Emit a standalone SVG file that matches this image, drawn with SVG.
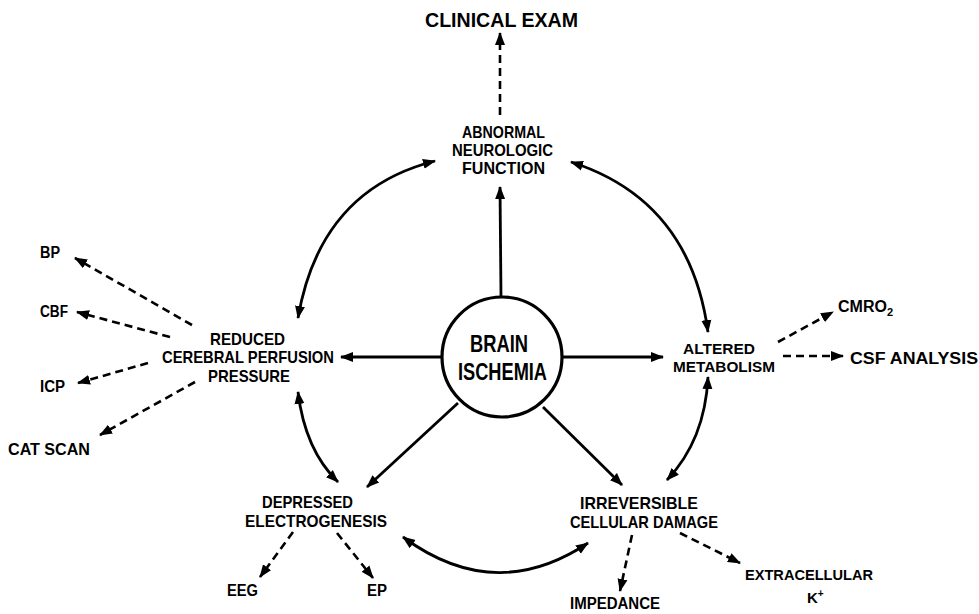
<svg xmlns="http://www.w3.org/2000/svg" width="979" height="614" viewBox="0 0 979 614">
<defs>
<style>
text{font-family:"Liberation Sans",Arial,sans-serif;font-weight:bold;font-size:17px;fill:#000}
.big{font-size:23px}
.title{font-size:20px}
.sm{font-size:16px}
.md{font-size:15px}
.solid{fill:none;stroke:#000;stroke-width:2.8}
.dash{fill:none;stroke:#000;stroke-width:2.6;stroke-dasharray:8 5}
</style>
<marker id="ah" markerUnits="userSpaceOnUse" markerWidth="14" markerHeight="12" refX="12" refY="5" orient="auto-start-reverse" viewBox="0 0 14 10">
<path d="M0,0 L13,5 L0,10 z" fill="#000"/>
</marker>
</defs>
<rect width="979" height="614" fill="#fff"/>
<g id="connectors">
<path class="dash" d="M500,115 L500,33" marker-end="url(#ah)"/>
<path class="solid" d="M501,297 L500,187" marker-end="url(#ah)"/>
<path class="solid" d="M442,357 L341,357" marker-end="url(#ah)"/>
<path class="solid" d="M562,357 L663,357" marker-end="url(#ah)"/>
<path class="solid" d="M458,403 L367,487" marker-end="url(#ah)"/>
<path class="solid" d="M543,407 L622,485" marker-end="url(#ah)"/>
<path class="solid" d="M435,161 Q320,190 298,318" marker-start="url(#ah)" marker-end="url(#ah)"/>
<path class="solid" d="M571,162 Q690,200 708,332" marker-start="url(#ah)" marker-end="url(#ah)"/>
<path class="solid" d="M298,392 Q305,450 338,482" marker-start="url(#ah)" marker-end="url(#ah)"/>
<path class="solid" d="M708,377 Q705,440 667,480" marker-start="url(#ah)" marker-end="url(#ah)"/>
<path class="solid" d="M403,537 Q495,605 588,543" marker-start="url(#ah)" marker-end="url(#ah)"/>
<path class="dash" d="M192,325 L75,258" marker-end="url(#ah)"/>
<path class="dash" d="M170,337 L77,312" marker-end="url(#ah)"/>
<path class="dash" d="M148,363 L78,383" marker-end="url(#ah)"/>
<path class="dash" d="M195,382 L100,435" marker-end="url(#ah)"/>
<path class="dash" d="M778,342 L833,312" marker-end="url(#ah)"/>
<path class="dash" d="M783,356 L843,356" marker-end="url(#ah)"/>
<path class="dash" d="M293,532 L260,577" marker-end="url(#ah)"/>
<path class="dash" d="M337,533 L373,578" marker-end="url(#ah)"/>
<path class="dash" d="M632,535 L620,591" marker-end="url(#ah)"/>
<path class="dash" d="M680,533 L740,563" marker-end="url(#ah)"/>
</g>
<g id="brain-ischemia">
<circle cx="502" cy="357" r="60" fill="none" stroke="#000" stroke-width="3.2"/>
<text class="big" x="470" y="352" textLength="58" lengthAdjust="spacingAndGlyphs">BRAIN</text>
<text class="big" x="458" y="380" textLength="89" lengthAdjust="spacingAndGlyphs">ISCHEMIA</text>
</g>
<g id="clinical-exam">
<text class="title" x="425" y="27" textLength="153" lengthAdjust="spacingAndGlyphs">CLINICAL EXAM</text>
</g>
<g id="abnormal">
<text x="462" y="138" textLength="83" lengthAdjust="spacingAndGlyphs">ABNORMAL</text>
<text x="452" y="156" textLength="101" lengthAdjust="spacingAndGlyphs">NEUROLOGIC</text>
<text x="462" y="174" textLength="83" lengthAdjust="spacingAndGlyphs">FUNCTION</text>
</g>
<g id="reduced">
<text x="210" y="345" textLength="75" lengthAdjust="spacingAndGlyphs">REDUCED</text>
<text x="162" y="363" textLength="172" lengthAdjust="spacingAndGlyphs">CEREBRAL PERFUSION</text>
<text x="208" y="382" textLength="82" lengthAdjust="spacingAndGlyphs">PRESSURE</text>
</g>
<g id="bp"><text class="sm" x="40" y="258" textLength="20" lengthAdjust="spacingAndGlyphs">BP</text></g>
<g id="cbf"><text class="sm" x="40" y="317" textLength="28" lengthAdjust="spacingAndGlyphs">CBF</text></g>
<g id="icp"><text class="sm" x="40" y="392" textLength="25" lengthAdjust="spacingAndGlyphs">ICP</text></g>
<g id="cat-scan"><text class="sm" x="8" y="455" textLength="82" lengthAdjust="spacingAndGlyphs">CAT  SCAN</text></g>
<g id="altered">
<text class="md" x="683" y="354" textLength="72" lengthAdjust="spacingAndGlyphs">ALTERED</text>
<text class="md" x="673" y="372" textLength="102" lengthAdjust="spacingAndGlyphs">METABOLISM</text>
</g>
<g id="cmro2"><text class="sm" x="838" y="312">CMRO<tspan font-size="11" dy="4">2</tspan></text></g>
<g id="csf"><text class="sm" x="850" y="364" textLength="128" lengthAdjust="spacingAndGlyphs">CSF  ANALYSIS</text></g>
<g id="depressed">
<text x="262" y="508" textLength="91" lengthAdjust="spacingAndGlyphs">DEPRESSED</text>
<text x="245" y="527" textLength="142" lengthAdjust="spacingAndGlyphs">ELECTROGENESIS</text>
</g>
<g id="eeg"><text class="sm" x="227" y="596" textLength="31" lengthAdjust="spacingAndGlyphs">EEG</text></g>
<g id="ep"><text class="sm" x="367" y="596" textLength="20" lengthAdjust="spacingAndGlyphs">EP</text></g>
<g id="irreversible">
<text x="580" y="509" textLength="118" lengthAdjust="spacingAndGlyphs">IRREVERSIBLE</text>
<text x="570" y="528" textLength="148" lengthAdjust="spacingAndGlyphs">CELLULAR DAMAGE</text>
</g>
<g id="impedance"><text class="sm" x="570" y="609" textLength="90" lengthAdjust="spacingAndGlyphs">IMPEDANCE</text></g>
<g id="extracellular">
<text class="md" x="745" y="580" textLength="128" lengthAdjust="spacingAndGlyphs">EXTRACELLULAR</text>
<text class="md" x="807" y="603">K<tspan font-size="10" dy="-6">+</tspan></text>
</g>
</svg>
